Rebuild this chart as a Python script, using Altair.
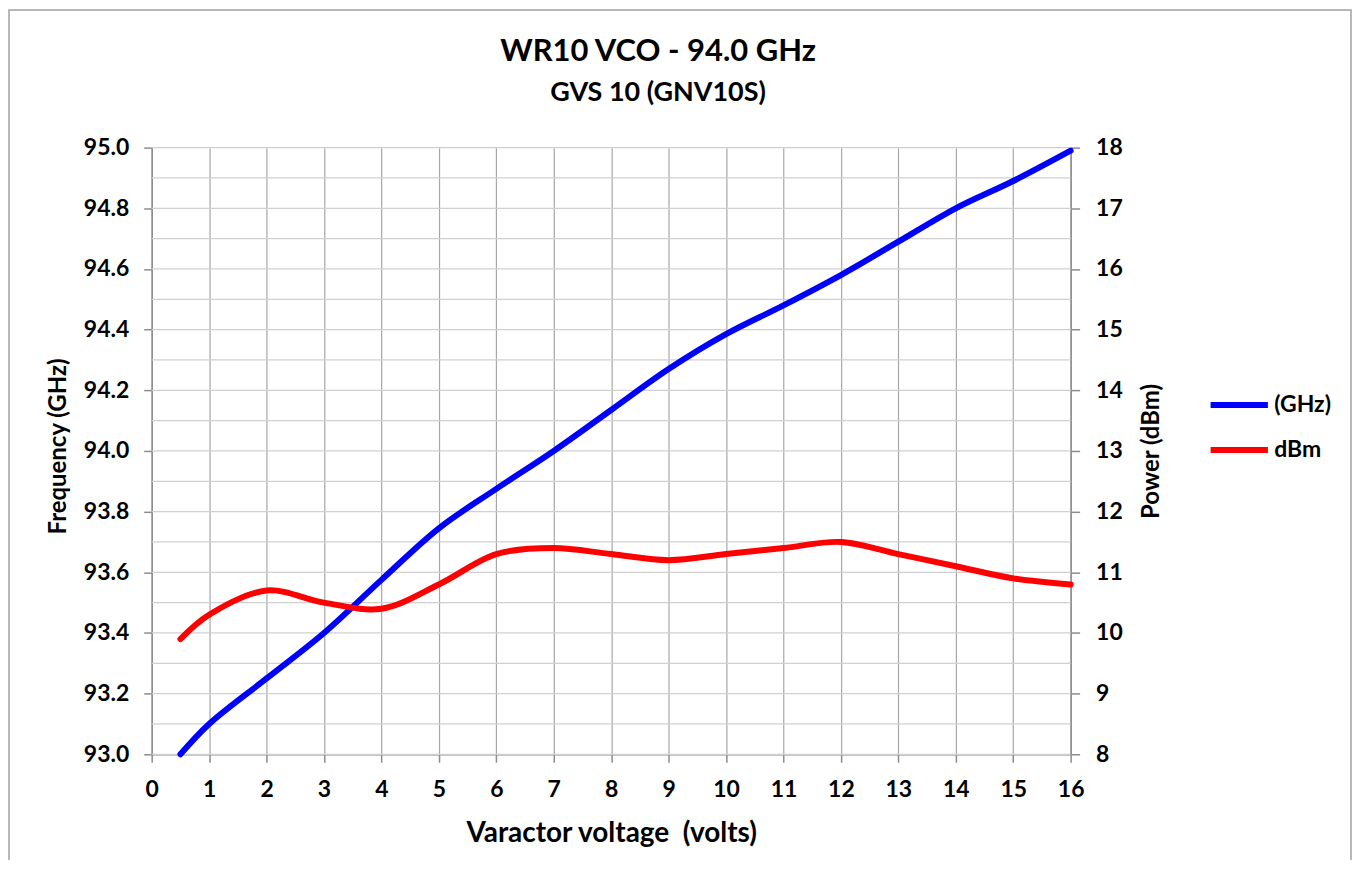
import altair as alt
import pandas as pd

# ---- data ----
voltage = [0.5, 1, 2, 3, 4, 5, 6, 7, 8, 9, 10, 11, 12, 13, 14, 15, 16]
freq_ghz = [93.00, 93.10, 93.25, 93.40, 93.575, 93.745, 93.875, 94.00, 94.135,
            94.27, 94.385, 94.48, 94.58, 94.69, 94.80, 94.89, 94.99]
power_dbm = [9.9, 10.3, 10.7, 10.5, 10.4, 10.8, 11.3, 11.4, 11.3, 11.2, 11.3,
             11.4, 11.5, 11.3, 11.1, 10.9, 10.8]

series_names = ["(GHz)", "dBm"]
series_colors = ["#0000FF", "#FF0000"]

volt_ticks = [0, 1, 2, 3, 4, 5, 6, 7, 8, 9, 10, 11, 12, 13, 14, 15, 16]
freq_ticks = [93.0, 93.2, 93.4, 93.6, 93.8, 94.0, 94.2, 94.4, 94.6, 94.8, 95.0]
freq_grid = [93.0, 93.1, 93.2, 93.3, 93.4, 93.5, 93.6, 93.7, 93.8, 93.9, 94.0,
             94.1, 94.2, 94.3, 94.4, 94.5, 94.6, 94.7, 94.8, 94.9, 95.0]
power_ticks = [8, 9, 10, 11, 12, 13, 14, 15, 16, 17, 18]

FONT = "Lato"

df_f = pd.DataFrame({"voltage": voltage, "value": freq_ghz, "series": series_names[0]})
df_p = pd.DataFrame({"voltage": voltage, "value": power_dbm, "series": series_names[1]})
df_g = pd.DataFrame({"value": freq_grid})

color = alt.Color(
    "series:N",
    scale=alt.Scale(domain=series_names, range=series_colors),
    legend=alt.Legend(
        title=None, orient="none", legendX=1058, legendY=226,
        symbolType="stroke", symbolSize=3300, symbolStrokeWidth=6,
        labelFont=FONT, labelFontSize=23, labelFontWeight="bold", labelColor="black",
        labelOffset=3, padding=0, rowPadding=1,
    ),
)

x_enc = alt.X(
    "voltage:Q",
    scale=alt.Scale(domain=[0, 16], nice=False, zero=False),
    axis=alt.Axis(
        values=volt_ticks, format="d", title="Varactor voltage\u00a0 (volts)",
        grid=True, gridColor="#a6a6a6", gridWidth=1.2,
        tickSize=8, labelPadding=34, labelBaseline="alphabetic",
        labelFlush=False, labelOverlap=False,
        titleY=87, titleBaseline="alphabetic", titleFontSize=28,
    ),
)

freq_scale = alt.Scale(domain=[93, 95], nice=False, zero=False)
freq_axis = alt.Axis(
    values=freq_ticks, format=".1f", title="Frequency (GHz)", grid=False,
    tickSize=8, labelPadding=15, orient="left", labelOverlap=False,
    labelFlush=False,
    titleX=-86, titleY=299, titleAngle=270, titleAlign="center",
    titleBaseline="alphabetic", titleFontSize=24,
)

grid_rules = alt.Chart(df_g).mark_rule(color="#d0d0d0", strokeWidth=1.2).encode(
    y=alt.Y("value:Q", scale=freq_scale, axis=freq_axis)
)

freq_line = alt.Chart(df_f).mark_line(
    strokeWidth=6, interpolate="catmull-rom", strokeCap="round"
).encode(
    x=x_enc,
    y=alt.Y("value:Q", scale=freq_scale, axis=freq_axis),
    color=color,
)

power_line = alt.Chart(df_p).mark_line(
    strokeWidth=6, interpolate="catmull-rom", strokeCap="round"
).encode(
    x=x_enc,
    y=alt.Y(
        "value:Q",
        scale=alt.Scale(domain=[8, 18], nice=False, zero=False),
        axis=alt.Axis(
            values=power_ticks, format="d", title="Power (dBm)", grid=False,
            tickSize=9, labelPadding=16, orient="right", labelOverlap=False,
            labelFlush=False,
            titleX=88, titleY=304, titleAngle=270, titleAlign="center",
            titleBaseline="alphabetic", titleFontSize=24,
        ),
    ),
    color=color,
)

frame = alt.Chart(pd.DataFrame({"a": [0]})).mark_rect(
    fill=None, stroke="#a0a0a0", strokeWidth=1.5
).encode(
    x=alt.value(-143), x2=alt.value(1202), y=alt.value(-138), y2=alt.value(900)
)

left = alt.layer(grid_rules, freq_line)

chart = alt.layer(left, power_line, frame).resolve_scale(y="independent").properties(
    width=921,
    height=608,
    padding={"left": 144, "top": 139, "right": 283, "bottom": 105},
    autosize=alt.AutoSizeParams(type="none"),
    title=alt.TitleParams(
        text="WR10 VCO - 94.0 GHz",
        subtitle="GVS 10 (GNV10S)",
        anchor="middle", dx=47, frame="group",
        font=FONT, fontSize=31, fontWeight="bold", color="black",
        subtitleFont=FONT, subtitleFontSize=27, subtitleFontWeight="bold",
        subtitleColor="black", subtitlePadding=12, offset=-98,
    ),
).configure_view(stroke=None).configure_axis(
    labelFont=FONT, labelFontSize=23, labelFontWeight="bold", labelColor="black",
    titleFont=FONT, titleFontWeight="bold", titleColor="black",
    domainColor="#8c8c8c", domainWidth=1.5, tickColor="#8c8c8c", tickWidth=1.5,
)

chart.save("out.html", embed_options={"renderer": "svg", "actions": False})
